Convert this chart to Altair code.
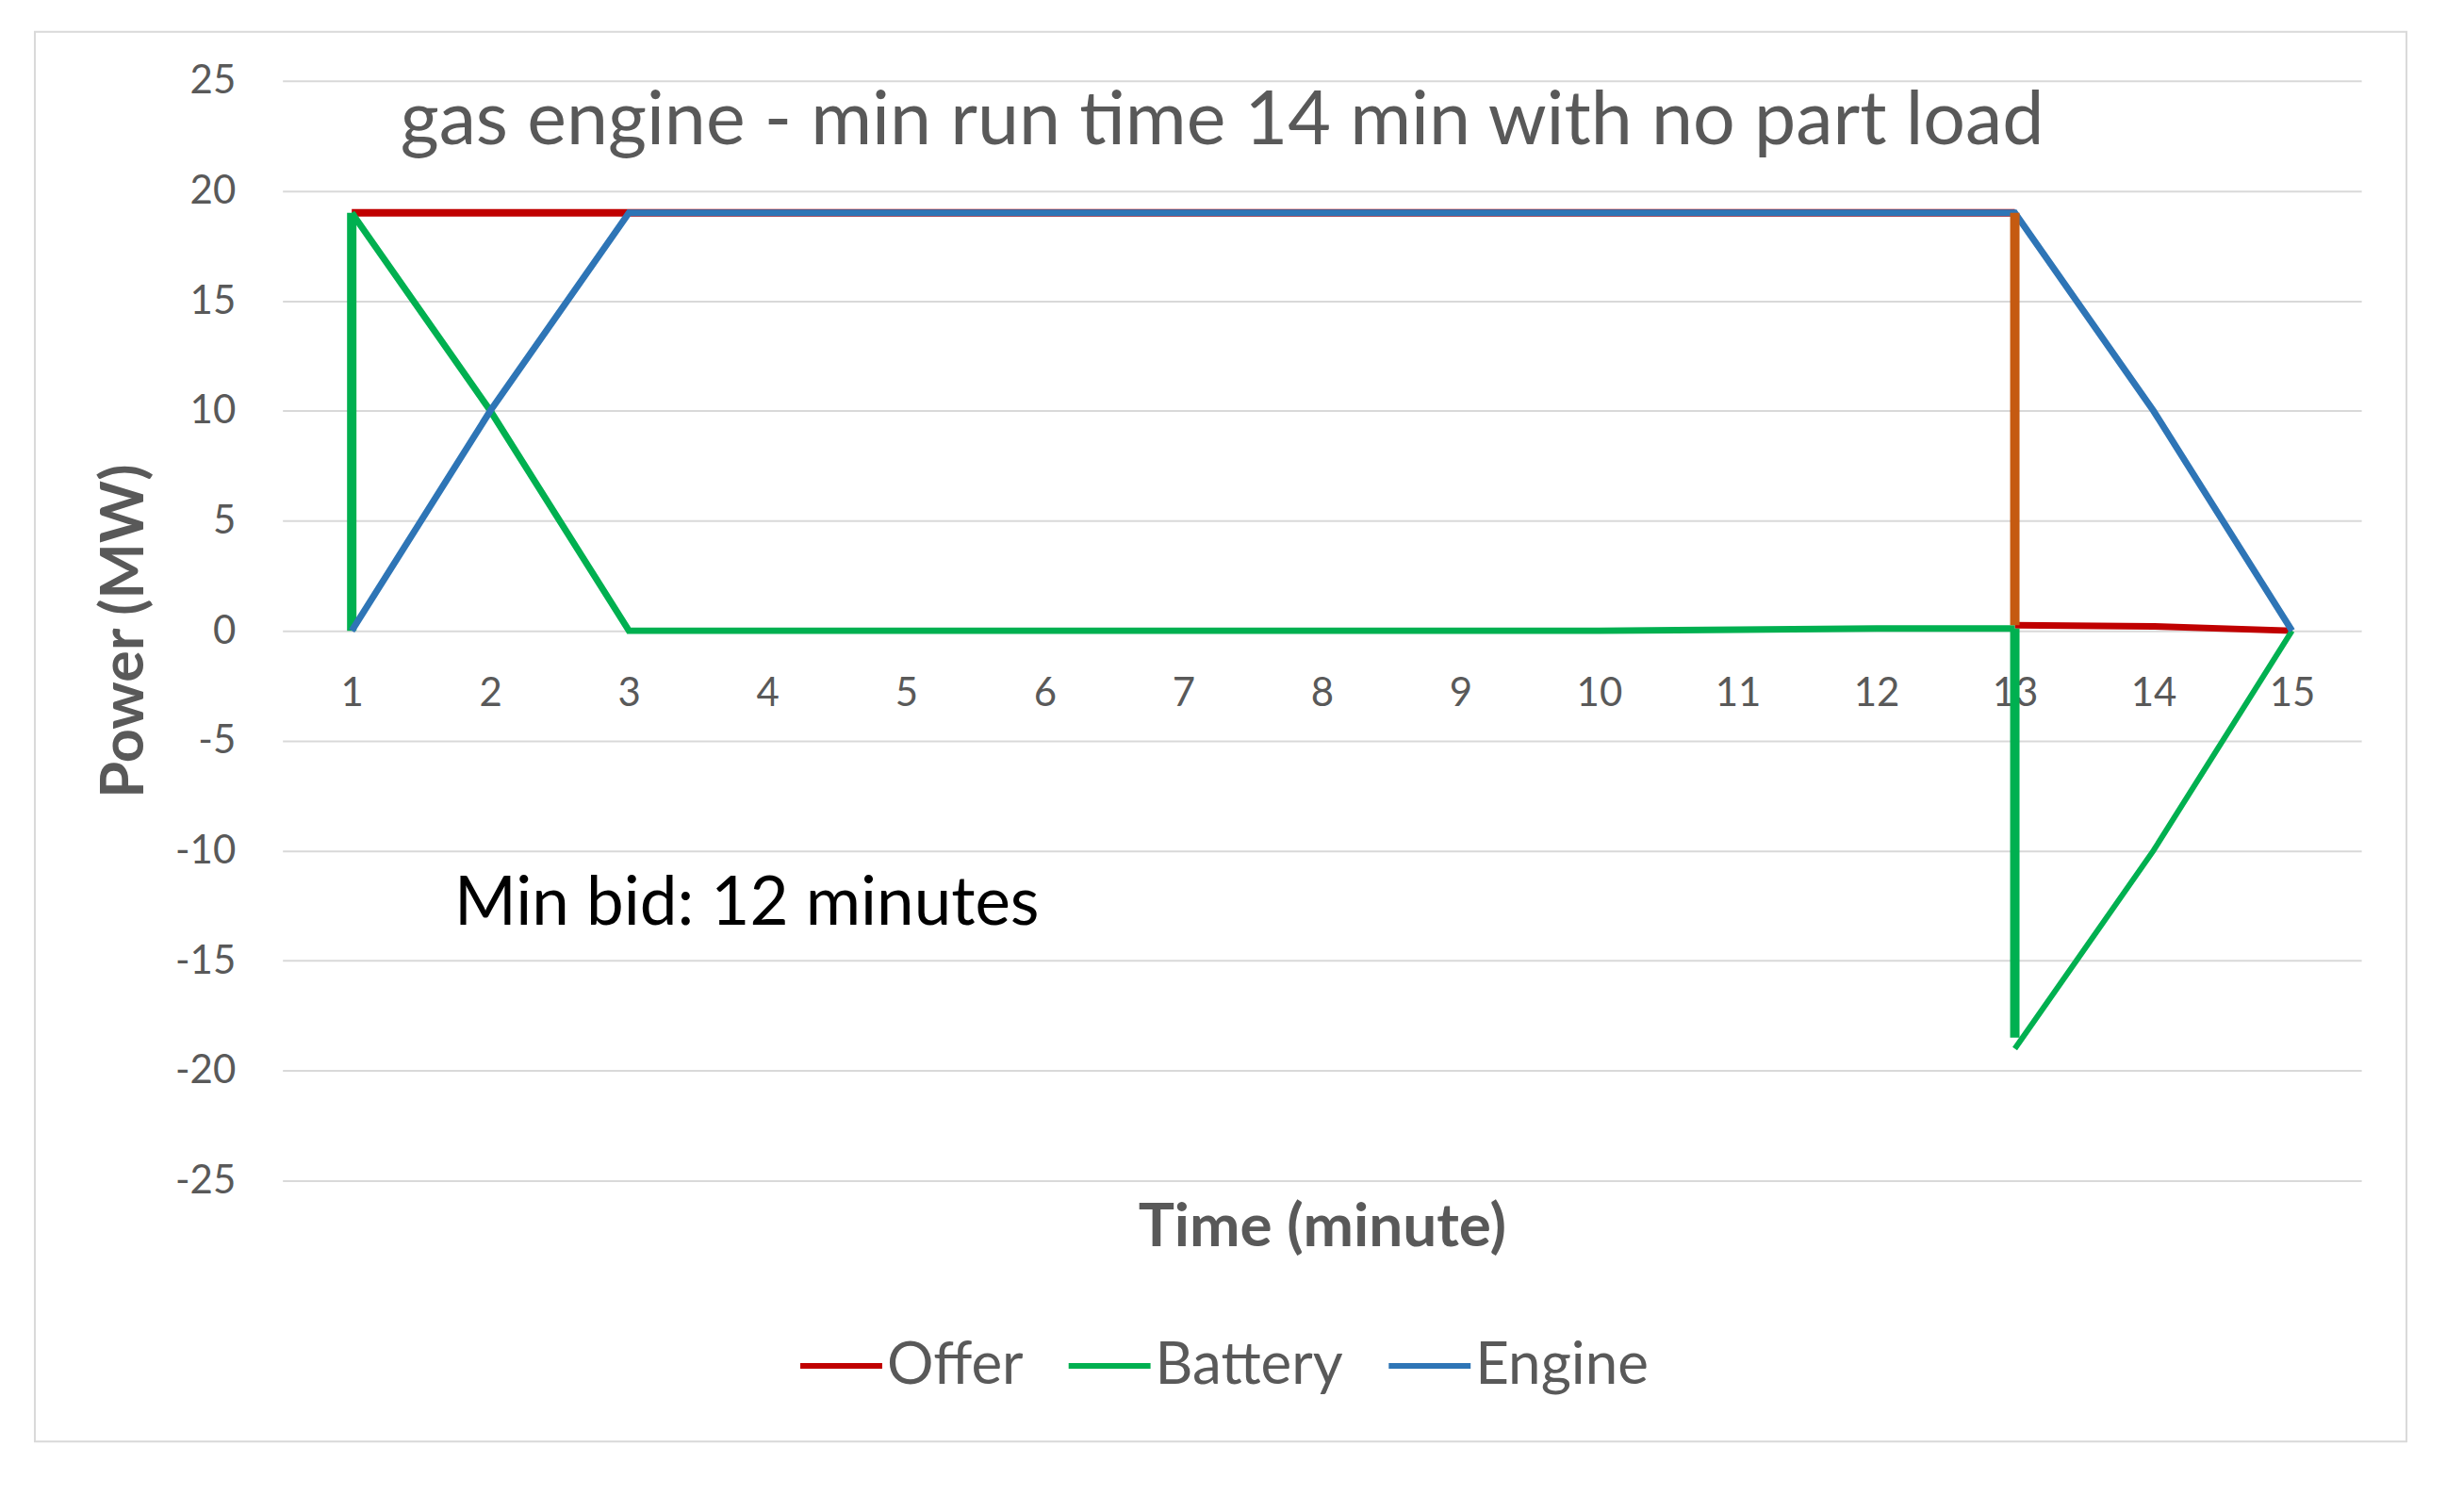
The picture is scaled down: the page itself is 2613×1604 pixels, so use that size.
import altair as alt
import pandas as pd

# ---------------- data ----------------
minutes = list(range(1, 16))
y_ticks = [-25, -20, -15, -10, -5, 0, 5, 10, 15, 20, 25]

series_names = ["Offer", "Battery", "Engine"]
series_colors = ["#C00000", "#00B050", "#2E75B6"]

# Offer (red)
offer_seg1_x = list(range(1, 14))
offer_seg1_y = [19] * 13
offer_seg2_x = [13, 14, 15]
offer_seg2_y = [0.25, 0.2, 0]

# Battery (green)
battery_up_x = [1, 1]
battery_up_y = [0, 19]
battery_flat_x = [1, 2, 3, 4, 5, 6, 7, 8, 9, 10, 11, 12, 13]
battery_flat_y = [19, 10, 0, 0, 0, 0, 0, 0, 0, 0, 0.05, 0.1, 0.1]
battery_down_x = [13, 13]
battery_down_y = [0.1, -18.5]
battery_back_x = [13, 14, 15]
battery_back_y = [-19, -10, 0]

# Engine (blue)
engine_x = list(range(1, 16))
engine_y = [0, 10, 19, 19, 19, 19, 19, 19, 19, 19, 19, 19, 19, 10, 0]

# Offer drop at minute 13 (orange, not in legend)
drop_x = [13, 13]
drop_y = [19, 0.25]

title_text = "gas engine - min run time 14 min with no part load"
note_text = "Min bid: 12 minutes"


def seg(series, name, xs, ys, w):
    return pd.DataFrame({"series": series, "seg": name, "x": xs, "y": ys,
                         "w": w, "i": range(len(xs))})


offer_df = pd.concat([seg("Offer", "o1", offer_seg1_x, offer_seg1_y, 8),
                      seg("Offer", "o2", offer_seg2_x, offer_seg2_y, 7)])
battery_df = pd.concat([seg("Battery", "b1", battery_up_x, battery_up_y, 10),
                        seg("Battery", "b2", battery_flat_x, battery_flat_y, 7),
                        seg("Battery", "b3", battery_down_x, battery_down_y, 10),
                        seg("Battery", "b4", battery_back_x, battery_back_y, 6)])
engine_df = seg("Engine", "e1", engine_x, engine_y, 7)
drop_df = seg("Drop", "d1", drop_x, drop_y, 10)

W, H = 2208, 1168
GRAY = "#595959"

xscale = alt.Scale(domain=[0.5, 15.5], nice=False, zero=False)
yscale = alt.Scale(domain=[-25, 25], nice=False)
cscale = alt.Scale(domain=series_names, range=series_colors)

x_axis = alt.Axis(values=minutes, title="Time (minute)", grid=False, domain=False,
                  ticks=False, offset=-(H / 2), labelPadding=46, labelFontSize=42,
                  labelColor=GRAY, titleFontSize=64, titleFontWeight="bold",
                  titleColor=GRAY, titleY=634, titleBaseline="middle",
                  labelExpr="datum.value + ''")
y_axis = alt.Axis(values=y_ticks, title="Power (MW)", grid=True, gridColor="#D9D9D9",
                  gridWidth=2, domain=False, ticks=False, labelPadding=50,
                  labelFontSize=42, labelColor=GRAY, titleFontSize=63,
                  titleFontWeight="bold", titleColor=GRAY, titleX=-167,
                  titleY=H / 2, titleBaseline="middle", titleAlign="center",
                  labelExpr="datum.value + ''")

X = alt.X("x:Q", scale=xscale, axis=x_axis)
Y = alt.Y("y:Q", scale=yscale, axis=y_axis)


def line_layer(df):
    return alt.Chart(df).mark_line(strokeCap="butt", strokeJoin="miter").encode(
        x=X, y=Y,
        detail="seg:N",
        order="i:Q",
        strokeWidth=alt.StrokeWidth("w:Q", scale=None, legend=None),
        color=alt.Color("series:N", scale=cscale, title=None),
    )


offer = line_layer(offer_df)
battery = line_layer(battery_df)
engine = line_layer(engine_df)
drop = alt.Chart(drop_df).mark_line(color="#C55A11", strokeCap="butt").encode(
    x=X, y=Y,
    order="i:Q",
    strokeWidth=alt.StrokeWidth("w:Q", scale=None, legend=None),
)

texts_df = pd.DataFrame({"t": [title_text], "x": [1.35], "y": [23.16]})
title_mark = alt.Chart(texts_df).mark_text(
    align="left", baseline="middle", fontSize=79, color=GRAY, font="Lato"
).encode(x=X, y=Y, text="t:N")

note_df = pd.DataFrame({"t": [note_text], "x": [1.74], "y": [-12.46]})
note_mark = alt.Chart(note_df).mark_text(
    align="left", baseline="middle", fontSize=71, color="#000000", font="Lato"
).encode(x=X, y=Y, text="t:N")

frame = alt.Chart(pd.DataFrame({"a": [0]})).mark_rect(
    filled=False, stroke="#D9D9D9", strokeWidth=2, clip=False
).encode(x=alt.value(-263), x2=alt.value(2256), y=alt.value(-52), y2=alt.value(1445))

chart = alt.layer(offer, battery, engine, drop, title_mark, note_mark, frame).properties(
    width=W, height=H,
    autosize=alt.AutoSizeParams(type="none"),
    padding={"left": 292, "top": 77, "right": 100, "bottom": 300},
).configure(font="Lato").configure_view(stroke=None).configure_legend(
    orient="none", legendX=547, legendY=1318, direction="horizontal",
    labelFontSize=62, labelColor=GRAY, labelFont="Lato", symbolType="stroke",
    symbolSize=7569, symbolStrokeWidth=6, labelOffset=2, columnPadding=36,
    padding=0, titlePadding=0, labelLimit=500,
)

chart.save("out.html", embed_options={"renderer": "svg", "actions": False})
